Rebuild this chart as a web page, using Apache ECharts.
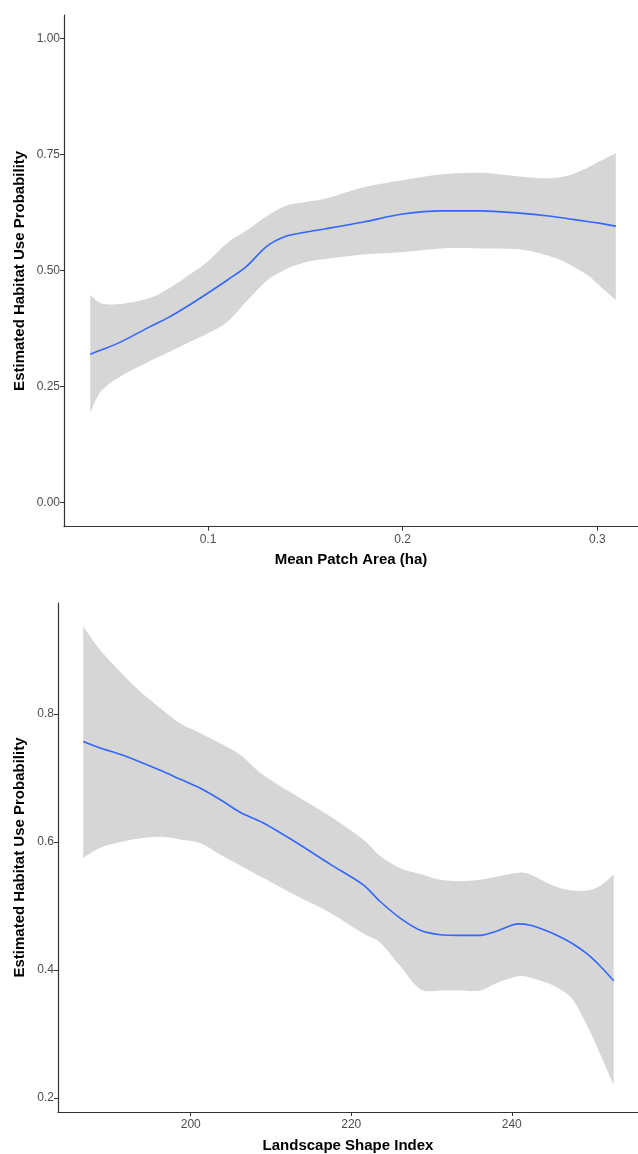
<!DOCTYPE html>
<html>
<head>
<meta charset="utf-8">
<script src="https://cdn.jsdelivr.net/npm/echarts@6/dist/echarts.min.js"></script>
<style>
html,body{margin:0;padding:0;background:#fff;}
#c{width:638px;height:1154px;}
</style>
</head>
<body>
<div id="c"></div>
<script>
// ---- Panel 1: Mean Patch Area ----
const mpaX     = [0.0395, 0.045, 0.055, 0.07, 0.08, 0.09, 0.10, 0.11, 0.12, 0.13, 0.14, 0.15, 0.16, 0.18, 0.20, 0.22, 0.24, 0.26, 0.275, 0.285, 0.295, 0.30, 0.3095];
const mpaFit   = [0.320, 0.329, 0.346, 0.379, 0.400, 0.425, 0.452, 0.480, 0.510, 0.552, 0.574, 0.583, 0.590, 0.605, 0.622, 0.629, 0.629, 0.624, 0.618, 0.612, 0.606, 0.603, 0.596];
const mpaLower = [0.194, 0.240, 0.272, 0.305, 0.325, 0.345, 0.365, 0.390, 0.435, 0.478, 0.503, 0.518, 0.525, 0.535, 0.540, 0.548, 0.548, 0.546, 0.532, 0.515, 0.490, 0.472, 0.437];
const mpaUpper = [0.448, 0.430, 0.428, 0.441, 0.462, 0.490, 0.520, 0.560, 0.587, 0.617, 0.640, 0.648, 0.655, 0.680, 0.695, 0.708, 0.711, 0.703, 0.699, 0.705, 0.722, 0.733, 0.753];
const mpaXTicks = [0.1, 0.2, 0.3];
const mpaYTicks = [0, 0.25, 0.5, 0.75, 1.0];

// ---- Panel 2: Landscape Shape Index ----
const lsiX     = [186.6, 188.7, 191.2, 193.7, 196.2, 198.7, 201.2, 203.7, 206.2, 209.0, 213.3, 217.4, 221.5, 223.6, 226.1, 228.6, 231.1, 233.5, 236.1, 238.2, 240.8, 242.3, 244.4, 246.0, 247.6, 249.4, 251.1, 252.7];
const lsiFit   = [0.757, 0.747, 0.737, 0.725, 0.712, 0.698, 0.684, 0.666, 0.646, 0.630, 0.598, 0.565, 0.533, 0.507, 0.481, 0.462, 0.455, 0.454, 0.454, 0.461, 0.472, 0.470, 0.461, 0.452, 0.441, 0.425, 0.405, 0.383];
const lsiLower = [0.575, 0.591, 0.600, 0.606, 0.608, 0.604, 0.598, 0.580, 0.563, 0.544, 0.515, 0.489, 0.457, 0.443, 0.406, 0.370, 0.368, 0.368, 0.368, 0.380, 0.390, 0.388, 0.380, 0.370, 0.354, 0.313, 0.266, 0.220];
const lsiUpper = [0.937, 0.900, 0.866, 0.835, 0.809, 0.785, 0.770, 0.754, 0.736, 0.705, 0.671, 0.640, 0.604, 0.578, 0.559, 0.550, 0.541, 0.539, 0.541, 0.546, 0.552, 0.549, 0.536, 0.528, 0.524, 0.524, 0.532, 0.549];
const lsiXTicks = [200, 220, 240];
const lsiYTicks = [0.2, 0.4, 0.6, 0.8];

const yTitle = 'Estimated Habitat Use Probability';
const mpaTitle = 'Mean Patch Area (ha)';
const lsiTitle = 'Landscape Shape Index';

const FONT = '"Liberation Sans", Arial, sans-serif';
const bandColor = '#d6d6d6';
const lineColor = '#3366ff';
const axisColor = '#333333';
const labelColor = '#4d4d4d';

function pairs(xs, ys) { return xs.map((x, i) => [x, ys[i]]); }

// Catmull-Rom curve through pixel points -> cubic bezier path commands
function curveCmds(p) {
  let s = '';
  for (let i = 0; i < p.length - 1; i++) {
    const p0 = p[i - 1] || p[i], p1 = p[i], p2 = p[i + 1], p3 = p[i + 2] || p[i + 1];
    const c1x = p1[0] + (p2[0] - p0[0]) / 6, c1y = p1[1] + (p2[1] - p0[1]) / 6;
    const c2x = p2[0] - (p3[0] - p1[0]) / 6, c2y = p2[1] - (p3[1] - p1[1]) / 6;
    s += ' C' + c1x.toFixed(2) + ' ' + c1y.toFixed(2) + ' ' + c2x.toFixed(2) + ' ' + c2y.toFixed(2) + ' ' + p2[0].toFixed(2) + ' ' + p2[1].toFixed(2);
  }
  return s;
}

function xAxisCfg(idx, min, max, ticks, fmt, name, nameGap) {
  return {
    type: 'value', gridIndex: idx, min: min, max: max,
    name: name, nameLocation: 'middle', nameGap: nameGap, nameMoveOverlap: false,
    nameTextStyle: { fontFamily: FONT, fontWeight: 'bold', fontSize: 15, color: '#000' },
    axisLine: { show: true, onZero: false, lineStyle: { color: axisColor, width: 1.2 } },
    axisTick: { show: true, length: 4, customValues: ticks, lineStyle: { color: axisColor, width: 1 } },
    axisLabel: { show: true, margin: 7, customValues: ticks, formatter: fmt, fontFamily: FONT, fontSize: 12, color: labelColor },
    splitLine: { show: false }
  };
}
function yAxisCfg(idx, min, max, ticks, fmt, nameGap) {
  return {
    type: 'value', gridIndex: idx, min: min, max: max,
    name: yTitle, nameLocation: 'middle', nameGap: nameGap, nameRotate: 90, nameMoveOverlap: false,
    nameTextStyle: { fontFamily: FONT, fontWeight: 'bold', fontSize: 15, color: '#000' },
    axisLine: { show: true, onZero: false, lineStyle: { color: axisColor, width: 1.2 } },
    axisTick: { show: true, length: 4, customValues: ticks, lineStyle: { color: axisColor, width: 1 } },
    axisLabel: { show: true, margin: 4, customValues: ticks, formatter: fmt, fontFamily: FONT, fontSize: 12, color: labelColor },
    splitLine: { show: false }
  };
}
function bandSeries(idx, xs, lo, hi, fit) {
  return [
    {
      type: 'custom', xAxisIndex: idx, yAxisIndex: idx, silent: true, z: 1,
      data: xs.map((x, i) => [x, lo[i], hi[i]]),
      encode: { x: 0, y: [1, 2] },
      renderItem: function (params, api) {
        if (params.dataIndex !== 0) return null;
        const up = xs.map((x, i) => api.coord([x, hi[i]]));
        const dn = xs.map((x, i) => api.coord([x, lo[i]])).reverse();
        const d = 'M' + up[0][0].toFixed(2) + ' ' + up[0][1].toFixed(2) + curveCmds(up) +
                  ' L' + dn[0][0].toFixed(2) + ' ' + dn[0][1].toFixed(2) + curveCmds(dn) + ' Z';
        return {
          type: 'path',
          shape: { pathData: d },
          style: { fill: bandColor, stroke: null }
        };
      }
    },
    { type: 'line', xAxisIndex: idx, yAxisIndex: idx, data: pairs(xs, fit), symbol: 'none', silent: true,
      lineStyle: { color: lineColor, width: 1.6 }, smooth: 0.3, z: 3 }
  ];
}

const chart = echarts.init(document.getElementById('c'), null, { renderer: 'canvas' });
chart.setOption({
  animation: false,
  backgroundColor: '#ffffff',
  textStyle: { fontFamily: FONT },
  grid: [
    { left: 64, top: 15, width: 574, height: 511.7 },
    { left: 58, top: 603, width: 580, height: 510 }
  ],
  xAxis: [
    xAxisCfg(0, 0.0260, 0.3209, mpaXTicks, v => v.toFixed(1), mpaTitle, 26),
    xAxisCfg(1, 183.46, 255.73, lsiXTicks, v => String(Math.round(v)), lsiTitle, 26)
  ],
  yAxis: [
    yAxisCfg(0, -0.0517, 1.051, mpaYTicks, v => v.toFixed(2), 37),
    yAxisCfg(1, 0.178, 0.9735, lsiYTicks, v => v.toFixed(1), 31)
  ],
  series: [].concat(
    bandSeries(0, mpaX, mpaLower, mpaUpper, mpaFit),
    bandSeries(1, lsiX, lsiLower, lsiUpper, lsiFit)
  )
});
</script>
</body>
</html>
